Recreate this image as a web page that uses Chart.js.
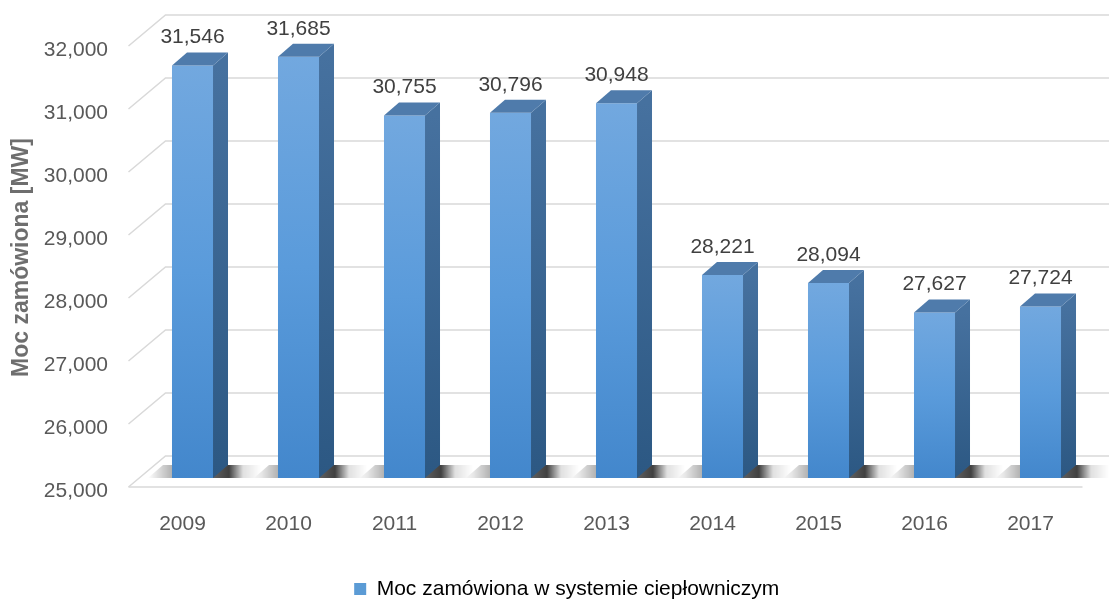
<!DOCTYPE html>
<html lang="pl">
<head>
  <meta charset="UTF-8" />
  <title>Moc zamówiona w systemie ciepłowniczym</title>
  <script src="https://cdn.jsdelivr.net/npm/chart.js"></script>
  <style>
    html, body {
      margin: 0;
      padding: 0;
      background: #ffffff;
    }
    #wrap {
      position: relative;
      width: 1109px;
      height: 605px;
    }
  </style>
</head>
<body>
  <div id="wrap">
    <canvas id="chart" width="1109" height="605"></canvas>
  </div>

  <script>
    // dane
    const lata = ["2009", "2010", "2011", "2012", "2013", "2014", "2015", "2016", "2017"];
    const moc = [31.546, 31.685, 30.755, 30.796, 30.948, 28.221, 28.094, 27.627, 27.724];
    const osY = { min: 25, max: 32, krok: 1 };
    const nazwaSerii = "Moc zamówiona w systemie ciepłowniczym";
    const tytulOsiY = "Moc zamówiona [MW]";

    // wyglad
    const font = "'Liberation Sans', Arial, sans-serif";
    const szary = "#595959";
    const siatka = "#d9d9d9";
    // przesuniecia 3D liczone od plaszczyzny slupkow
    const przod = { dx: -11, dy: 9 };
    const tyl = { dx: 26, dy: -22 };
    const glebia = { dx: 15, dy: -13 };

    const fmt = v => v.toFixed(3).replace(".", ",");

    function frontFill(context) {
      const chart = context.chart;
      if (!chart.chartArea) return "#5b9bd5";
      const y = chart.scales.y;
      const top = y.getPixelForValue(moc[context.dataIndex]);
      const g = chart.ctx.createLinearGradient(0, top, 0, y.getPixelForValue(osY.min));
      g.addColorStop(0, "#72a8df");
      g.addColorStop(0.5, "#5a9bdb");
      g.addColorStop(1, "#4387cc");
      return g;
    }

    const scena3d = {
      id: "scena3d",
      beforeDatasetsDraw(chart) {
        const { ctx, chartArea: a, scales: { y } } = chart;
        ctx.save();
        ctx.strokeStyle = siatka;
        ctx.lineWidth = 1.5;
        // sciana tylna i lewa
        for (let v = osY.min; v <= osY.max; v += osY.krok) {
          const py = y.getPixelForValue(v);
          ctx.beginPath();
          ctx.moveTo(a.left + przod.dx, py + przod.dy);
          ctx.lineTo(a.left + tyl.dx, py + tyl.dy);
          ctx.lineTo(a.right + tyl.dx, py + tyl.dy);
          ctx.stroke();
        }
        // przednia krawedz podlogi
        const py0 = y.getPixelForValue(osY.min);
        ctx.beginPath();
        ctx.moveTo(a.left + przod.dx, py0 + przod.dy);
        ctx.lineTo(a.right + przod.dx, py0 + przod.dy);
        ctx.stroke();

        // cienie slupkow na podlodze
        const meta = chart.getDatasetMeta(0);
        meta.data.forEach(bar => {
          const l = bar.x - bar.width / 2;
          const r = bar.x + bar.width / 2;
          const x0 = l - 24, x1 = r + 48;
          const g = ctx.createLinearGradient(x0, 0, x1, 0);
          const f = x => (x - x0) / (x1 - x0);
          g.addColorStop(0, "rgba(0,0,0,0)");
          g.addColorStop(f(l), "rgba(0,0,0,0.3)");
          g.addColorStop(f(r + glebia.dx + 1), "rgba(0,0,0,0.75)");
          g.addColorStop(f(r + 30), "rgba(0,0,0,0.12)");
          g.addColorStop(1, "rgba(0,0,0,0)");
          ctx.fillStyle = g;
          ctx.beginPath();
          ctx.moveTo(x0, py0);
          ctx.lineTo(x1, py0);
          ctx.lineTo(x1 + glebia.dx, py0 + glebia.dy);
          ctx.lineTo(x0 + glebia.dx, py0 + glebia.dy);
          ctx.closePath();
          ctx.fill();
        });
        ctx.restore();
      },
      afterDatasetsDraw(chart) {
        const { ctx, scales: { y } } = chart;
        const meta = chart.getDatasetMeta(0);
        const b = y.getPixelForValue(osY.min);
        ctx.save();
        meta.data.forEach((bar, i) => {
          const l = bar.x - bar.width / 2;
          const r = bar.x + bar.width / 2;
          const t = bar.y;
          // bok
          const gs = ctx.createLinearGradient(0, t, 0, b);
          gs.addColorStop(0, "#46719f");
          gs.addColorStop(1, "#2c5883");
          ctx.fillStyle = gs;
          ctx.beginPath();
          ctx.moveTo(r, t);
          ctx.lineTo(r + glebia.dx, t + glebia.dy);
          ctx.lineTo(r + glebia.dx, b + glebia.dy);
          ctx.lineTo(r, b);
          ctx.closePath();
          ctx.fill();
          // wierzch
          ctx.fillStyle = "#4f7bab";
          ctx.beginPath();
          ctx.moveTo(l, t);
          ctx.lineTo(l + glebia.dx, t + glebia.dy);
          ctx.lineTo(r + glebia.dx, t + glebia.dy);
          ctx.lineTo(r, t);
          ctx.closePath();
          ctx.fill();
          // etykieta
          ctx.fillStyle = "#404040";
          ctx.font = "21px " + font;
          ctx.textAlign = "center";
          ctx.textBaseline = "middle";
          ctx.fillText(fmt(moc[i]), bar.x, t - 28);
        });
        ctx.restore();
      }
    };

    new Chart(document.getElementById("chart"), {
      type: "bar",
      data: {
        labels: lata,
        datasets: [{
          label: nazwaSerii,
          data: moc,
          backgroundColor: frontFill,
          borderWidth: 0,
          categoryPercentage: 1,
          barPercentage: 0.387
        }]
      },
      options: {
        responsive: false,
        animation: false,
        layout: { padding: { top: 37, left: 40, right: 15.5, bottom: -4.5 } },
        plugins: {
          legend: {
            position: "bottom",
            labels: {
              boxWidth: 12,
              boxHeight: 12,
              padding: 0,
              color: szary,
              font: { family: font, size: 21 },
              generateLabels: () => [{
                text: nazwaSerii,
                fillStyle: "#5b9bd5",
                strokeStyle: "#5b9bd5",
                lineWidth: 0,
                datasetIndex: 0
              }]
            }
          },
          tooltip: { enabled: false }
        },
        scales: {
          x: {
            grid: { display: false, drawTicks: false },
            border: { display: false },
            ticks: {
              color: szary,
              font: { family: font, size: 21 },
              padding: 33.5,
              labelOffset: -10
            },
            afterFit: s => { s.height = 100.5; }
          },
          y: {
            min: osY.min,
            max: osY.max,
            grid: { display: false, drawTicks: false },
            border: { display: false },
            ticks: {
              stepSize: osY.krok,
              color: szary,
              font: { family: font, size: 21 },
              padding: 31.5,
              labelOffset: 13,
              callback: v => fmt(v)
            },
            title: {
              display: true,
              text: tytulOsiY,
              color: "#6e6e6e",
              font: { family: font, size: 23, weight: "bold" },
              padding: { top: -31.8, bottom: 0 }
            },
            afterFit: s => {
              s.width = 99.5;
              s.paddingTop = 0;
              s.paddingBottom = 0;
            }
          }
        }
      },
      plugins: [scena3d]
    });
  </script>
</body>
</html>
